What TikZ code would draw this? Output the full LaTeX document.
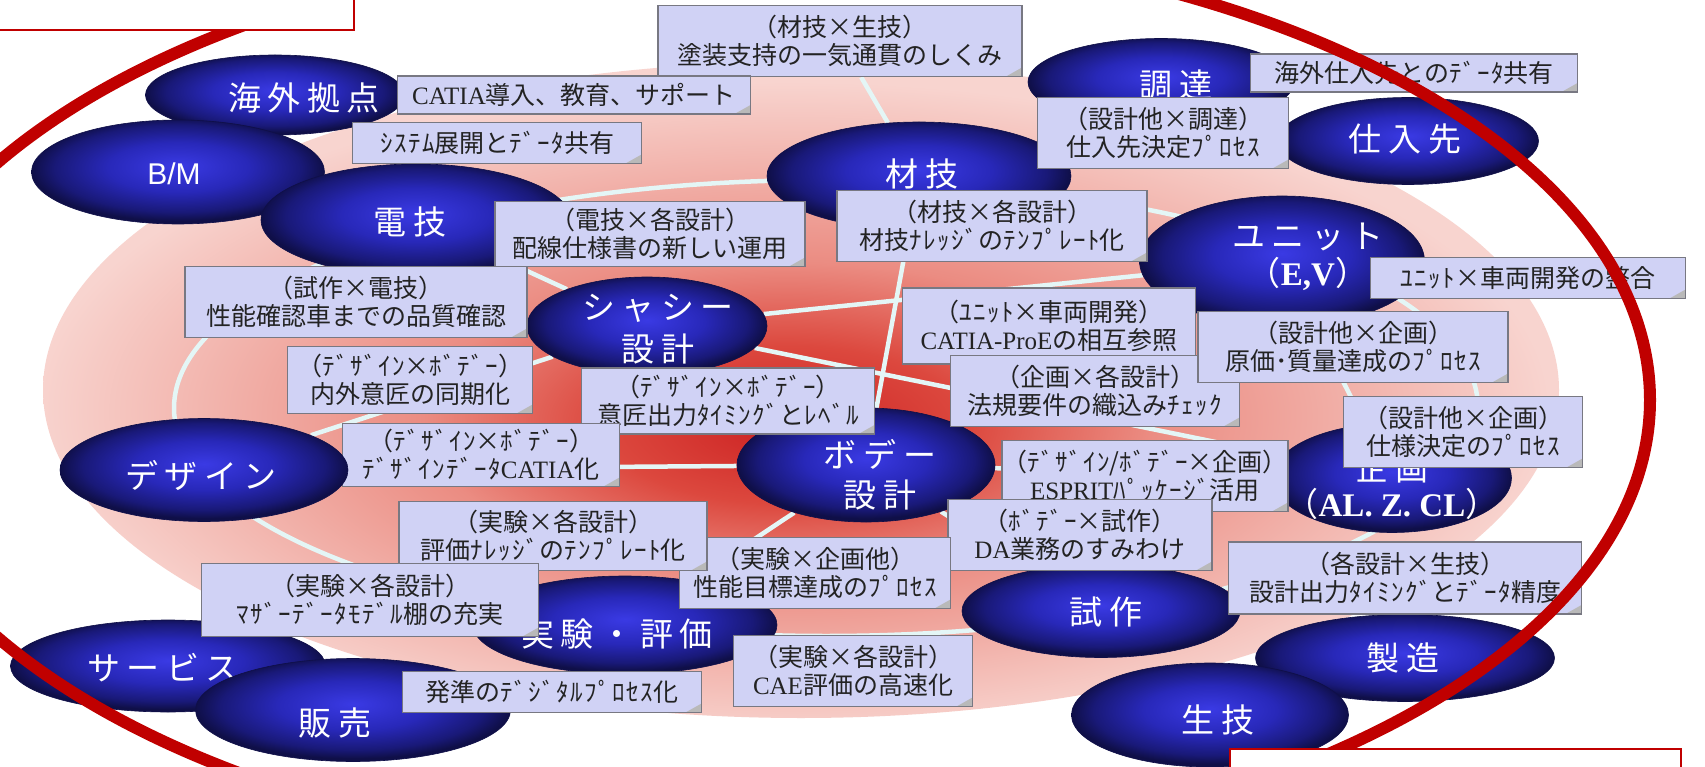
\documentclass[tikz,border=0pt]{standalone}
\usepackage{fontspec}
\setmainfont{Noto Sans CJK JP}
\newfontfamily\jpell[LetterSpace=20]{Noto Sans CJK JP}
\newfontfamily\hkfont[LetterSpace=6]{Noto Sans CJK JP}
\newfontfamily\serb{Liberation Serif}
\newfontfamily\ars{Liberation Sans}
\newcommand\hwk[1]{{\hkfont #1}}
\usetikzlibrary{shapes.geometric}
\definecolor{navyE}{RGB}{15,15,72}
\definecolor{navyD}{RGB}{25,25,120}
\definecolor{navyM}{RGB}{40,40,185}
\definecolor{navyB}{RGB}{58,58,228}
\definecolor{lav}{RGB}{208,210,245}
\definecolor{lavB}{RGB}{120,120,130}
\definecolor{ringred}{RGB}{192,0,0}
\definecolor{webc}{RGB}{228,246,246}
\definecolor{rC}{RGB}{205,35,35}
\definecolor{rM}{RGB}{220,72,62}
\definecolor{pA}{RGB}{235,140,130}
\definecolor{pB}{RGB}{243,185,178}
\definecolor{pC}{RGB}{248,212,207}
\definecolor{txt}{RGB}{35,35,35}
\pgfdeclareradialshading{bgshade}{\pgfpoint{-0.6bp}{-3bp}}{color(0bp)=(rC); color(6bp)=(rM); color(12bp)=(pA); color(20bp)=(pB); color(25bp)=(pC); color(50bp)=(pC)}
\pgfdeclareradialshading{ellshade}{\pgfpoint{0bp}{3bp}}{color(0bp)=(navyB); color(12bp)=(navyM); color(21bp)=(navyD); color(25bp)=(navyE); color(50bp)=(navyE)}
\pgfdeclarelayer{bg}
\pgfdeclarelayer{web}
\pgfsetlayers{bg,web,main}
\begin{document}
\begin{tikzpicture}[x=1pt,y=-1pt,
  ell/.style={ellipse, shade, shading=ellshade, draw=navyE, line width=0.6pt, inner sep=0pt},
  etxt/.style={text=white, font=\jpell\fontsize{33}{40}\selectfont, align=center, inner sep=0pt},
  lbl/.style={draw=lavB, line width=1.5pt, fill=lav, align=center, inner sep=0pt, text=txt,
    font=\fontsize{25}{28}\selectfont,
    path picture={\fill[gray!55] ([xshift=-16pt]path picture bounding box.south east) -- ([yshift=9pt]path picture bounding box.south east) -- (path picture bounding box.south east) -- cycle;}},
  web/.style={draw=webc, line width=4.5pt},
  ring/.style={draw=ringred, line width=12pt},
  rbox/.style={draw=ringred, fill=white, line width=1.6pt, inner sep=0pt, anchor=north west}
]
\useasboundingbox (0,0) rectangle (1705,767);
\clip (0,0) rectangle (1705,767);
\begin{pgfonlayer}{bg}
\fill[white] (0,0) rectangle (1705,767);
\shade[shading=bgshade] (801,390) ellipse [x radius=758pt, y radius=328pt];
\end{pgfonlayer}

% ellipses (back ones first)
\node[ell, minimum width=259pt, minimum height=80pt] (kaigai) at (275,95) {};
\node[etxt] (kaigai-t) at (304,98) {海外拠点};
\node[ell, minimum width=293pt, minimum height=104pt] (bm) at (178,172) {};
\node[etxt, font=\ars\fontsize{30}{34}\selectfont] (bm-t) at (174,174) {B/M};
\node[ell, minimum width=310pt, minimum height=112pt] (denki) at (416,220) {};
\node[etxt] (denki-t) at (410,222) {電技};
\node[ell, minimum width=304pt, minimum height=108pt] (zaigi) at (919,176) {};
\node[etxt] (zaigi-t) at (922,174) {材技};
\node[ell, minimum width=266pt, minimum height=87pt] (chotatsu) at (1161,82) {};
\node[etxt] (chotatsu-t) at (1176,85) {調達};
\node[ell, minimum width=261pt, minimum height=87pt] (shiire) at (1408,141) {};
\node[etxt] (shiire-t) at (1405,139) {仕入先};
\node[ell, minimum width=285pt, minimum height=130pt] (unit) at (1282,261) {};
\node[etxt, font=\jpell\fontsize{33}{37}\selectfont] (unit-t) at (1308,257) {ユニット\\（{\serb\bfseries E,V}）};
\node[ell, minimum width=240pt, minimum height=98pt] (chassis) at (647,326) {};
\node[etxt, font=\jpell\fontsize{33}{42}\selectfont] (chassis-t) at (658,329) {シャシー\\設計};
\node[ell, minimum width=258pt, minimum height=114pt] (body) at (866,465) {};
\node[etxt, font=\jpell\fontsize{33}{40}\selectfont] (body-t) at (880,475) {ボデー\\設計};
\node[ell, minimum width=239pt, minimum height=109pt] (kikaku) at (1392,478) {};
\node[etxt, font=\jpell\fontsize{33}{36}\selectfont] (kikaku-t) at (1392,486) {企画\\（{\serb\bfseries AL. Z. CL}）};
\node[ell, minimum width=304pt, minimum height=98pt] (jikken) at (625,625) {};
\node[etxt] (jikken-t) at (617,634) {実験・評価};
\node[ell, minimum width=278pt, minimum height=93pt] (shisaku) at (1101,611) {};
\node[etxt] (shisaku-t) at (1106,612) {試作};
\node[ell, minimum width=299pt, minimum height=87pt] (seizo) at (1405,658) {};
\node[etxt] (seizo-t) at (1403,658) {製造};
\node[ell, minimum width=277pt, minimum height=104pt] (seigi) at (1210,715) {};
\node[etxt] (seigi-t) at (1218,720) {生技};
\node[ell, minimum width=315pt, minimum height=92pt] (service) at (168,666) {};
\node[etxt] (service-t) at (163,668) {サービス};
\node[ell, minimum width=315pt, minimum height=103pt] (hanbai) at (353,710) {};
\node[etxt] (hanbai-t) at (335,723) {販売};

% labels
\node[lbl, minimum width=364pt, minimum height=71pt] (l1) at (840,41) {（材技×生技）\\塗装支持の一気通貫のしくみ};
\node[lbl, minimum width=353pt, minimum height=38pt] (l2) at (574,95) {{\serb CATIA}導入、教育、サポート};
\node[lbl, minimum width=289pt, minimum height=41pt] (l3) at (497,143) {\hwk{ｼｽﾃﾑ}展開と\hwk{ﾃﾞｰﾀ}共有};
\node[lbl, minimum width=327pt, minimum height=38pt] (l4) at (1414,73) {海外仕入先との\hwk{ﾃﾞｰﾀ}共有};
\node[lbl, minimum width=251pt, minimum height=71pt] (l5) at (1163,133) {（設計他×調達）\\仕入先決定\hwk{ﾌﾟﾛｾｽ}};
\node[lbl, minimum width=310pt, minimum height=65pt] (l6) at (650,234) {（電技×各設計）\\配線仕様書の新しい運用};
\node[lbl, minimum width=310pt, minimum height=71pt] (l7) at (992,226) {（材技×各設計）\\材技\hwk{ﾅﾚｯｼﾞ}の\hwk{ﾃﾝﾌﾟﾚｰﾄ}化};
\node[lbl, minimum width=315pt, minimum height=41pt] (l8) at (1528,278) {\hwk{ﾕﾆｯﾄ}×車両開発の整合};
\node[lbl, minimum width=342pt, minimum height=71pt] (l9) at (356,302) {（試作×電技）\\性能確認車までの品質確認};
\node[lbl, minimum width=293pt, minimum height=76pt] (l10) at (1049,326) {（\hwk{ﾕﾆｯﾄ}×車両開発）\\{\serb CATIA-ProE}の相互参照};
\node[lbl, minimum width=245pt, minimum height=67pt] (l12) at (410,380) {（\hwk{ﾃﾞｻﾞｲﾝ}×\hwk{ﾎﾞﾃﾞｰ}）\\内外意匠の同期化};
\node[lbl, minimum width=289pt, minimum height=71pt] (l14) at (1095,391) {（企画×各設計）\\法規要件の織込み\hwk{ﾁｪｯｸ}};
\node[lbl, minimum width=310pt, minimum height=71pt] (l11) at (1353,347) {（設計他×企画）\\原価･質量達成の\hwk{ﾌﾟﾛｾｽ}};
\node[lbl, minimum width=293pt, minimum height=66pt] (l13) at (728,401) {（\hwk{ﾃﾞｻﾞｲﾝ}×\hwk{ﾎﾞﾃﾞｰ}）\\意匠出力\hwk{ﾀｲﾐﾝｸﾞ}と\hwk{ﾚﾍﾞﾙ}};
\node[lbl, minimum width=239pt, minimum height=71pt] (l15) at (1463,432) {（設計他×企画）\\仕様決定の\hwk{ﾌﾟﾛｾｽ}};
\node[lbl, minimum width=277pt, minimum height=63pt] (l16) at (481,455) {（\hwk{ﾃﾞｻﾞｲﾝ}×\hwk{ﾎﾞﾃﾞｰ}）\\\hwk{ﾃﾞｻﾞｲﾝﾃﾞｰﾀ}{\serb CATIA}化};
\node[lbl, minimum width=277pt, minimum height=71pt] (l17) at (1145,476) {（\hwk{ﾃﾞｻﾞｲﾝ}/\hwk{ﾎﾞﾃﾞｰ}×企画）\\{\serb ESPRIT}\hwk{ﾊﾟｯｹｰｼﾞ}活用};
\node[lbl, minimum width=264pt, minimum height=71pt] (l18) at (1080,535) {（\hwk{ﾎﾞﾃﾞｰ}×試作）\\{\serb DA}業務のすみわけ};
\node[lbl, minimum width=271pt, minimum height=71pt] (l20) at (815,573) {（実験×企画他）\\性能目標達成の\hwk{ﾌﾟﾛｾｽ}};
\node[lbl, minimum width=308pt, minimum height=69pt] (l19) at (553,536) {（実験×各設計）\\評価\hwk{ﾅﾚｯｼﾞ}の\hwk{ﾃﾝﾌﾟﾚｰﾄ}化};
\node[lbl, minimum width=353pt, minimum height=72pt] (l21) at (1405,578) {（各設計×生技）\\設計出力\hwk{ﾀｲﾐﾝｸﾞ}と\hwk{ﾃﾞｰﾀ}精度};
\node[lbl, minimum width=337pt, minimum height=73pt] (l22) at (370,600) {（実験×各設計）\\\hwk{ﾏｻﾞｰﾃﾞｰﾀﾓﾃﾞﾙ}棚の充実};
\node[lbl, minimum width=299pt, minimum height=41pt] (l23) at (552,692) {発準の\hwk{ﾃﾞｼﾞﾀﾙﾌﾟﾛｾｽ}化};
\node[lbl, minimum width=239pt, minimum height=71pt] (l24) at (853,671) {（実験×各設計）\\{\serb CAE}評価の高速化};

% design ellipse sits above label l16
\node[ell, minimum width=288pt, minimum height=103pt] (design) at (204,470) {};
\node[etxt] (design-t) at (201,475) {デザイン};

% web lines (drawn under the ellipses)
\begin{pgfonlayer}{web}
\draw[web] (826,408) ellipse [x radius=652pt, y radius=228pt];
\draw[web] (zaigi) -- (body);
\draw[web] (chassis) -- (unit);
\draw[web] (chassis) -- (kikaku);
\draw[web] (design) -- (body);
\draw[web] (design) -- (chassis);
\draw[web] (body) -- (kikaku);
\draw[web] (body) -- (shisaku);
\draw[web] (body) -- (jikken);
\draw[web] (denki) -- (chassis);
\draw[web] (zaigi) -- (l1);
\draw[web] (unit) -- (kikaku);
\end{pgfonlayer}

% red ring and boxes
\draw[ring] (760,400) ellipse [x radius=890pt, y radius=460pt];
\node[rbox, minimum width=355pt, minimum height=31pt] (tlbox) at (-2,-2) {};
\node[rbox, minimum width=451pt, minimum height=40pt] (brbox) at (1229,748) {};
\end{tikzpicture}
\end{document}
